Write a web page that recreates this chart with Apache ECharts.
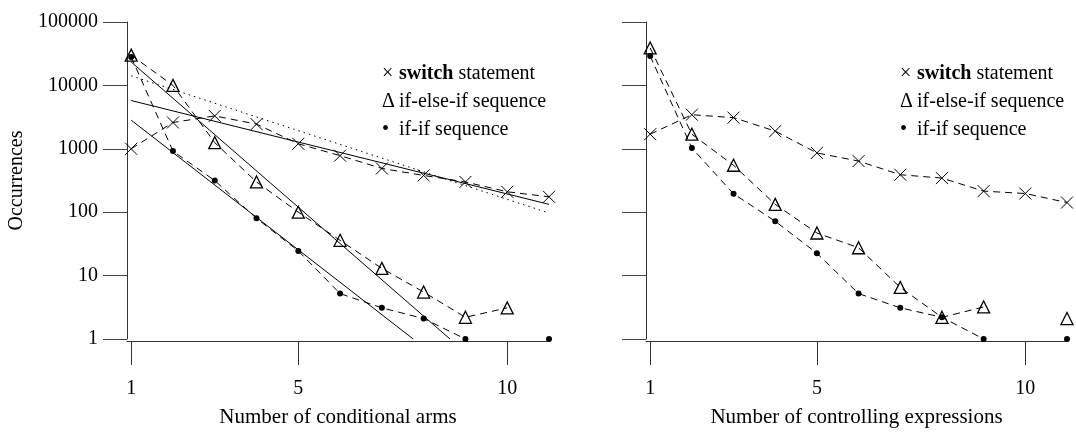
<!DOCTYPE html>
<html>
<head>
<meta charset="utf-8">
<script src="https://cdn.jsdelivr.net/npm/echarts@6/dist/echarts.min.js"></script>
<style>
  html, body { margin: 0; padding: 0; background: #fff; }
  #chart { width: 1076px; height: 433px; }
</style>
</head>
<body>
<div id="chart"></div>
<script>
const counts = [1, 2, 3, 4, 5, 6, 7, 8, 9, 10, 11];
const xTicks = [1, 5, 10];

// left panel: number of conditional arms
const armsSwitch = [1000, 2600, 3300, 2450, 1200, 780, 490, 380, 300, 210, 175];
const armsElseIf = [30000, 10000, 1250, 300, 100, 36, 13, 5.5, 2.2, 3.1, null];
const armsIfIf = [28000, 920, 315, 80, 24.5, 5.2, 3.1, 2.1, 1, null, 1];

// fitted lines, as [x, y] end points
const fitSwitch = [[1, 5770], [11, 133]];
const fitSwitchDotted = [[1, 14200], [11, 97]];
const fitElseIf = [[1, 23400], [8.63, 1]];
const fitIfIf = [[1, 2830], [7.75, 1]];

// right panel: number of controlling expressions
const exprSwitch = [1700, 3450, 3100, 1900, 860, 640, 390, 345, 215, 197, 142];
const exprElseIf = [39000, 1700, 550, 133, 47, 27.5, 6.5, 2.2, 3.2, null, 2.1];
const exprIfIf = [29000, 1030, 195, 72, 22.5, 5.2, 3.1, 2.2, 1, null, 1];

const serif = '"Liberation Serif", "DejaVu Serif", serif';
const crossPath = 'path://M0,0L10,10M10,0L0,10';

function pairs(ys) {
  return counts.map((c, i) => [c, ys[i]]);
}

function pointSeries(ys, idx, kind) {
  const s = {
    type: 'line',
    xAxisIndex: idx,
    yAxisIndex: idx,
    data: pairs(ys),
    connectNulls: false,
    lineStyle: { color: '#000', width: 1, type: [7, 5] },
    emphasis: { disabled: true },
  };
  if (kind === 'cross') {
    s.symbol = crossPath;
    s.symbolSize = 12;
    s.itemStyle = { color: 'none', borderColor: '#000', borderWidth: 1 };
  } else if (kind === 'tri') {
    s.symbol = 'triangle';
    s.symbolSize = 12;
    s.itemStyle = { color: 'rgba(0,0,0,0)', borderColor: '#000', borderWidth: 1.3 };
  } else {
    s.symbol = 'circle';
    s.symbolSize = 6;
    s.itemStyle = { color: '#000' };
  }
  return s;
}

function fitSeries(data, type) {
  return {
    type: 'line',
    xAxisIndex: 0,
    yAxisIndex: 0,
    data: data,
    showSymbol: false,
    lineStyle: { color: '#000', width: 1, type: type },
    emphasis: { disabled: true },
  };
}

function xAxisFor(idx, title) {
  return {
    type: 'value',
    gridIndex: idx,
    min: 0.9,
    max: 11,
    offset: 2,
    splitLine: { show: false },
    axisLine: { onZero: false, lineStyle: { color: '#333' } },
    axisTick: { customValues: xTicks, length: 24, lineStyle: { color: '#333' } },
    axisLabel: { customValues: xTicks, margin: 38, fontFamily: serif, fontSize: 20, color: '#000' },
    name: title,
    nameLocation: 'middle',
    nameGap: 66,
    nameTextStyle: { fontFamily: serif, fontSize: 21, color: '#000' },
  };
}

function yAxisFor(idx, showLabels) {
  return {
    type: 'log',
    logBase: 10,
    gridIndex: idx,
    min: 1,
    max: 100000,
    splitLine: { show: false },
    axisLine: { show: true, onZero: false, lineStyle: { color: '#333' } },
    axisTick: { show: true, length: 24, lineStyle: { color: '#444' } },
    axisLabel: {
      show: showLabels,
      margin: 29,
      fontFamily: serif,
      fontSize: 20,
      color: '#000',
      formatter: (v) => String(Math.round(v)),
    },
    name: showLabels ? 'Occurrences' : '',
    nameLocation: 'middle',
    nameRotate: 90,
    nameGap: 100,
    nameTextStyle: { fontFamily: serif, fontSize: 20, color: '#000' },
  };
}

function legendRows(symX, textX) {
  const rows = [
    { sym: '\u00d7', text: '{b|switch} statement', y: 74 },
    { sym: '\u0394', text: 'if-else-if sequence', y: 102 },
    { sym: '\u2022', text: 'if-if sequence', y: 130 },
  ];
  const out = [];
  rows.forEach((r) => {
    out.push({
      type: 'text', x: symX, y: r.y,
      style: { text: r.sym, font: '20px ' + serif, fill: '#000', verticalAlign: 'middle' },
    });
    out.push({
      type: 'text', x: textX, y: r.y,
      style: {
        text: r.text, font: '20px ' + serif, fill: '#000', verticalAlign: 'middle',
        rich: { b: { fontFamily: serif, fontSize: 20, fontWeight: 'bold', fill: '#000' } },
      },
    });
  });
  return out;
}

const chart = echarts.init(document.getElementById('chart'), null, { renderer: 'canvas' });
chart.setOption({
  animation: false,
  backgroundColor: '#fff',
  grid: [
    { left: 127, top: 22, width: 422, height: 324 },
    { left: 646, top: 22, width: 421, height: 324 },
  ],
  xAxis: [
    xAxisFor(0, 'Number of conditional arms'),
    xAxisFor(1, 'Number of controlling expressions'),
  ],
  yAxis: [yAxisFor(0, true), yAxisFor(1, false)],
  graphic: legendRows(382, 399).concat(legendRows(900, 917)),
  series: [
    fitSeries(fitSwitch, 'solid'),
    fitSeries(fitSwitchDotted, [1.5, 4]),
    fitSeries(fitElseIf, 'solid'),
    fitSeries(fitIfIf, 'solid'),
    pointSeries(armsSwitch, 0, 'cross'),
    pointSeries(armsElseIf, 0, 'tri'),
    pointSeries(armsIfIf, 0, 'dot'),
    pointSeries(exprSwitch, 1, 'cross'),
    pointSeries(exprElseIf, 1, 'tri'),
    pointSeries(exprIfIf, 1, 'dot'),
  ],
});
</script>
</body>
</html>
